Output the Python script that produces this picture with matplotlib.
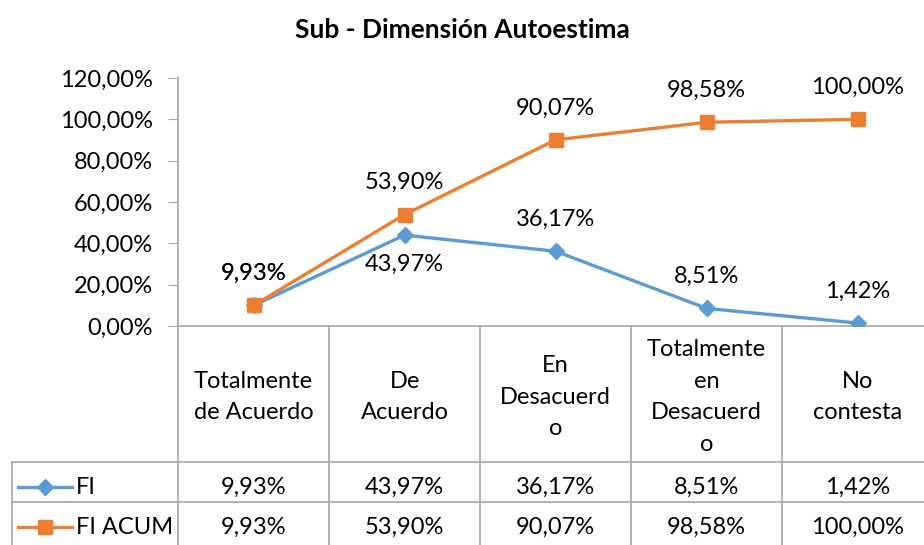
import matplotlib
matplotlib.use("Agg")
import matplotlib.pyplot as plt
from matplotlib.lines import Line2D

plt.rcParams['font.family'] = ['Lato', 'DejaVu Sans']

categorias = ["Totalmente\nde Acuerdo", "De\nAcuerdo", "En\nDesacuerd\no",
              "Totalmente\nen\nDesacuerd\no", "No\ncontesta"]
fi = [9.93, 43.97, 36.17, 8.51, 1.42]
fi_acum = [9.93, 53.90, 90.07, 98.58, 100.00]
fi_pos = ['above', 'below', 'above', 'above', 'above']

azul = '#5B9BD5'
naranja = '#ED7D31'
gris = '#A6A6A6'
fs = 17


def pct(v):
    return f"{v:.2f}%".replace('.', ',')


W, H = 924, 545
fig = plt.figure(figsize=(W / 100, H / 100), dpi=100)
ax = fig.add_axes([178 / W, 1 - 326 / H, (W - 178) / W + 0.01, 248 / H])

x = [i + 0.5 for i in range(len(categorias))]
ax.plot(x, fi, color=azul, lw=2.4, marker='D', ms=8.5, zorder=3)
ax.plot(x, fi_acum, color=naranja, lw=2.4, marker='s', ms=9.5, zorder=4)

for xi, v in zip(x, fi_acum):
    ax.annotate(pct(v), (xi, v), xytext=(0, 23), textcoords='offset points',
                ha='center', va='center', fontsize=fs)
for xi, v, p in zip(x, fi, fi_pos):
    dy = 23 if p == 'above' else -21
    ax.annotate(pct(v), (xi, v), xytext=(0, dy), textcoords='offset points',
                ha='center', va='center', fontsize=fs)

ax.set_xlim(0, 5)
ax.set_ylim(0, 120)
ax.set_yticks(range(0, 121, 20))
ax.set_yticklabels([pct(t) for t in range(0, 121, 20)], fontsize=17)
ax.tick_params(axis='y', length=7, color=gris, pad=11)
ax.set_xticks([])
for s in ['top', 'right']:
    ax.spines[s].set_visible(False)
for s in ['left', 'bottom']:
    ax.spines[s].set_color(gris)
    ax.spines[s].set_linewidth(1.2)

# data table below the plot
ah = 248.0
def ya(px):
    return (326 - px) / ah

tr = ax.get_xaxis_transform()
y_bot = ya(560)
for k in range(0, 6):
    ax.add_line(Line2D([k, k], [0, y_bot], transform=tr, color=gris, lw=1.2, clip_on=False))
for py in [462, 502]:
    fig.add_artist(Line2D([12 / W, 1], [1 - py / H, 1 - py / H], color=gris, lw=1.2))
fig.add_artist(Line2D([12 / W, 12 / W], [1 - 462 / H, 0], color=gris, lw=1.2))

for xi, c in zip(x, categorias):
    ax.text(xi, ya(397), c, transform=tr, ha='center', va='center',
            fontsize=fs, linespacing=1.62)
for xi, a, b in zip(x, fi, fi_acum):
    ax.text(xi, ya(487), pct(a), transform=tr, ha='center', va='center', fontsize=fs)
    ax.text(xi, ya(527), pct(b), transform=tr, ha='center', va='center', fontsize=fs)

# legend keys in table rows
for py, col, mk, ms, lab in [(487, azul, 'D', 8.5, 'FI'), (527, naranja, 's', 9.5, 'FI ACUM')]:
    yf = 1 - py / H
    fig.add_artist(Line2D([18 / W, 72 / W], [yf, yf], color=col, lw=2.4))
    fig.add_artist(Line2D([45 / W], [yf], color=col, marker=mk, ms=ms, lw=0))
    fig.text(76 / W, yf, lab, ha='left', va='center', fontsize=fs)

fig.text(0.5, 1 - 30 / H, "Sub - Dimensión Autoestima", ha='center', va='center',
         fontsize=19, fontweight='bold')

fig.savefig('out.png', dpi=100)
